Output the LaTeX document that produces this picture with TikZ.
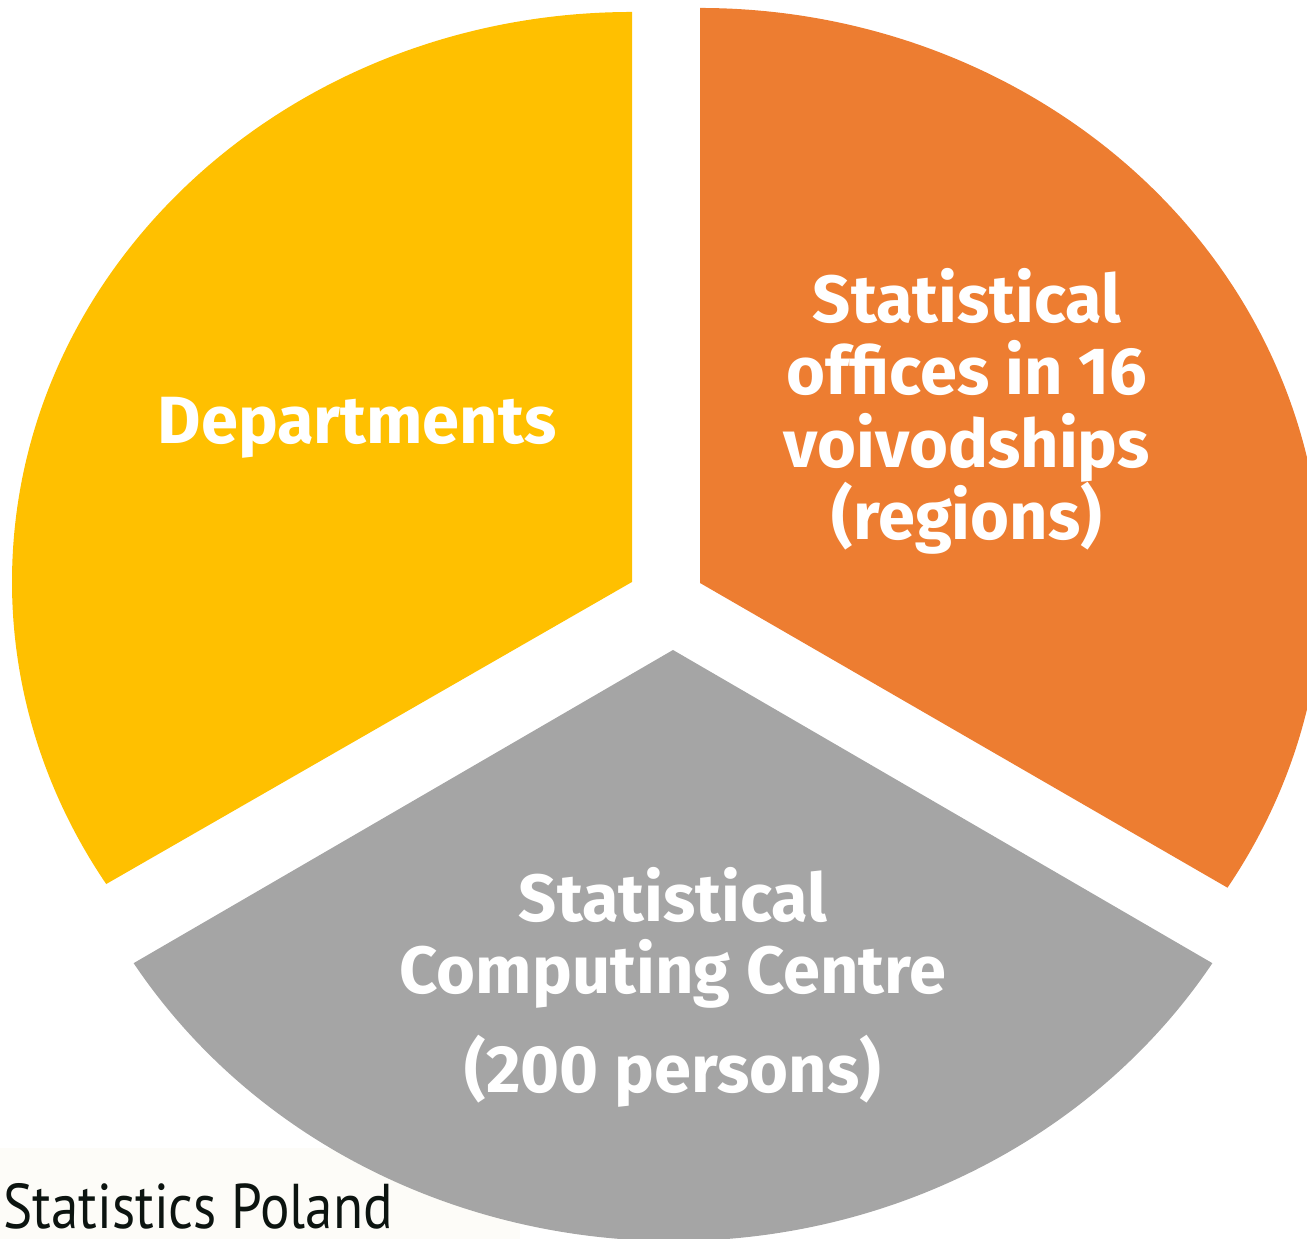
\documentclass[tikz,border=0pt]{standalone}
\usepackage{fontspec}
\usepackage{graphicx}
\setmainfont{Fira Sans}
\newfontfamily\logofont{PT Sans}
\definecolor{pieyellow}{HTML}{FFC000}
\definecolor{pieorange}{HTML}{ED7D31}
\definecolor{piegray}{HTML}{A5A5A5}
\definecolor{logobg}{HTML}{FDFCF8}
\definecolor{logoink}{HTML}{0C1410}

\begin{document}
\begin{tikzpicture}[
    slicelbl/.style={text=white, align=center, inner sep=0pt,
      font=\fontsize{19}{20.6}\selectfont\bfseries},
  ]
    \useasboundingbox (0,0) rectangle (13.07,12.39);
    \clip (0,0) rectangle (13.07,12.39);

    %% logo strip
    \fill[logobg] (0,0) rectangle (5.2,0.91);

    %% slices
    \fill[pieyellow] (6.32,6.57) -- ++(0,5.70) arc[start angle=90, end angle=212, x radius=6.20, y radius=5.70] -- cycle;
    \fill[pieorange] (7.00,6.56) -- ++(-32:6.22 and 5.75) arc[start angle=-32, end angle=90, x radius=6.22, y radius=5.75] -- cycle;
    \fill[piegray] (6.73,5.89) -- ++(212:6.36 and 5.91) arc[start angle=212, end angle=328, x radius=6.36, y radius=5.91] -- cycle;

    %% labels
    \node[slicelbl] (dep) at (3.57,8.115) {Departments};
    \node[slicelbl] (off) at (9.67,8.275) {Statistical\\offices in 16\\voivodships\\(regions)};
    \node[slicelbl] (scc) at (6.73,2.515) {Statistical\\Computing Centre\\[7.5pt](200 persons)};

    \node[anchor=base west, inner sep=0pt, text=logoink, font=\logofont\fontsize{18}{20}\selectfont] (logo) at (0.03,0.1) {\scalebox{0.87}[1]{Statistics Poland}};
\end{tikzpicture}
\end{document}
